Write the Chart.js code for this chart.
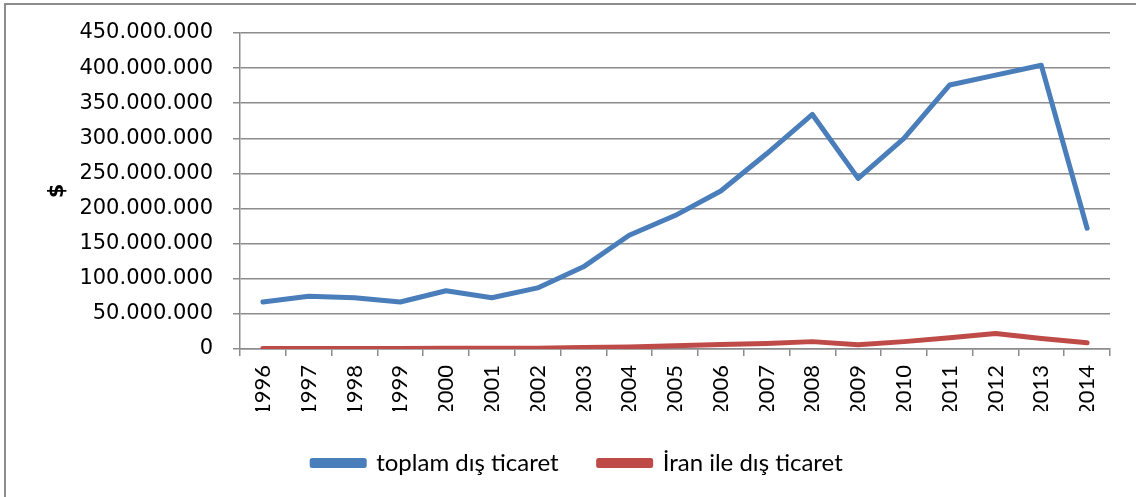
<!DOCTYPE html>
<html>
<head>
<meta charset="utf-8">
<script src="https://cdn.jsdelivr.net/npm/chart.js@4"></script>
<style>
  html, body { margin: 0; padding: 0; background: #fff; }
  #wrap { position: relative; width: 1136px; height: 497px; }
</style>
</head>
<body>
<div id="wrap"><canvas id="chart" width="1136" height="497"></canvas></div>
<script>
const ctx = document.getElementById('chart');

const years = ['1996','1997','1998','1999','2000','2001','2002','2003','2004','2005',
               '2006','2007','2008','2009','2010','2011','2012','2013','2014'];
const toplam = [67000000, 75000000, 73000000, 67000000, 83000000, 73000000, 87000000,
                117000000, 162000000, 190000000, 225000000, 278000000, 334000000,
                243000000, 300000000, 376000000, 390000000, 404000000, 172000000];
const iran = [800000, 700000, 600000, 800000, 900000, 900000, 1000000, 2000000,
              3000000, 4500000, 6500000, 8000000, 10500000, 6000000, 10500000,
              16000000, 22000000, 15000000, 9000000];

const blue_color = '#4a7ebb';
const red_color = '#be4b48';
const grid_color = '#8c8c8c';

// outer frame: only top and left edges are visible in the picture
const frame = {
    id: 'frame',
    beforeDraw(chart) {
        const c = chart.ctx;
        c.save();
        c.fillStyle = '#fff';
        c.fillRect(0, 0, chart.width, chart.height);
        c.strokeStyle = '#8c8c8c';
        c.lineWidth = 2;
        c.beginPath();
        c.moveTo(5, chart.height);
        c.lineTo(5, 4);
        c.lineTo(chart.width, 4);
        c.stroke();
        c.restore();
    }
};

const config = {
    type: 'line',
    data: {
        labels: years,
        datasets: [{
            label: 'toplam dış ticaret',
            data: toplam,
            borderColor: blue_color,
            backgroundColor: blue_color,
            borderWidth: 5,
            pointRadius: 0,
            borderJoinStyle: 'round',
            borderCapStyle: 'round',
            tension: 0
        }, {
            label: 'İran ile dış ticaret',
            data: iran,
            borderColor: red_color,
            backgroundColor: red_color,
            borderWidth: 5,
            pointRadius: 0,
            borderJoinStyle: 'round',
            borderCapStyle: 'round',
            tension: 0
        }]
    },
    options: {
        responsive: false,
        animation: false,
        layout: { padding: { left: 45, top: 33, right: 26, bottom: 12 } },
        plugins: {
            tooltip: { enabled: false },
            legend: {
                position: 'bottom',
                labels: {
                    boxWidth: 52,
                    boxHeight: 5,
                    padding: 40,
                    color: '#000',
                    font: { family: 'Lato', size: 24 }
                }
            }
        },
        scales: {
            x: {
                offset: true,
                afterFit(s) { s.height = 62; },
                border: { color: grid_color, width: 1.5 },
                grid: { offset: true, drawOnChartArea: false, color: grid_color, tickLength: 7, lineWidth: 1.5 },
                ticks: {
                    minRotation: 90, maxRotation: 90, padding: 9,
                    color: '#000',
                    font: { family: 'Lato', size: 22 }
                }
            },
            y: {
                min: 0, max: 450000000,
                afterFit(s) { s.width = 195; },
                border: { color: grid_color, width: 1.5 },
                grid: { color: grid_color, tickLength: 7, lineWidth: 1.5 },
                ticks: {
                    stepSize: 50000000,
                    padding: 20,
                    color: '#000',
                    font: { family: 'DejaVu Sans', size: 21 },
                    callback: v => v.toLocaleString('de-DE')
                },
                title: {
                    display: true,
                    text: '$',
                    color: '#000',
                    font: { family: 'DejaVu Sans', size: 21, weight: 'bold' },
                    padding: 0
                }
            }
        }
    },
    plugins: [frame]
};

const myChart = new Chart(ctx, config);
</script>
</body>
</html>
